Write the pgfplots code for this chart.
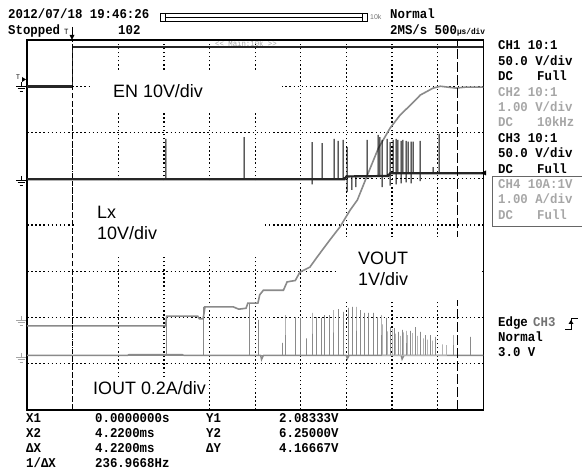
\documentclass[border=0pt]{standalone}
\usepackage{pgfplots}
\pgfplotsset{compat=1.18}
\usepackage{fontspec}
\setmainfont{Liberation Sans}
\newfontfamily\scopefont{Liberation Mono}[FakeStretch=0.92]
\definecolor{trace}{HTML}{8A8A8A}
\definecolor{dim}{HTML}{B4B4B4}
\definecolor{off}{HTML}{A6A6A6}
\newcommand\st{\scopefont\bfseries\fontsize{13.5}{15}\selectfont}
\newcommand\lab{\fontsize{18}{21}\selectfont}
\tikzset{scopegrid/.style={black, line width=1.3bp, dash pattern=on 1.5bp off 2.6bp}}

\begin{document}
\begin{tikzpicture}
\path[use as bounding box] (0,0) rectangle (582bp,471bp);

% faint header text inside the screen, under the traces
\begin{scope}[shift={(0bp,471bp)}, x=1bp, y=-1bp]
  \node[anchor=base west, inner sep=0, text=black!35, font=\scopefont\fontsize{8}{9}\selectfont] at (215,47) {<< Main:10k >>};
\end{scope}

\begin{axis}[
  at={(27bp,61bp)}, anchor=south west,
  scale only axis, width=456.3bp, height=370bp,
  xmin=-0.5, xmax=4.5, ymin=0, ymax=8,
  xtick=\empty, ytick=\empty,
  axis line style={black, line width=1.3bp},
]
% screen graticule: 500 us/div, 8 vertical divisions
\pgfplotsinvokeforeach{0,0.5,1,1.5,2,2.5,3,3.5,4}{
  \draw[scopegrid] (axis cs:#1,0) -- (axis cs:#1,8);
}
\pgfplotsinvokeforeach{1,2,3,4,5,6,7}{
  \draw[scopegrid] (axis cs:-0.5,#1) -- (axis cs:4.5,#1);
}
% IOUT (CH4), 0.2 A/div
\addplot[trace, line width=1.4bp] coordinates {
  (-0.5,1.18) (0.6,1.18) (0.62,1.20) (1.2,1.20) (1.22,1.18) (2.06,1.18) (2.07,1.09) (2.09,1.18)
  (3.0,1.18) (3.01,1.11) (3.03,1.18) (3.6,1.18) (3.61,1.10) (3.63,1.18) (4.5,1.18)};
\addplot[trace, line width=0.9bp] coordinates {
  (-0.5,1.18)
  (1.023,1.18) (1.023,2.03) (1.023,1.18)
  (1.430,1.18) (1.430,2.23) (1.430,1.18)
  (1.940,1.18) (1.940,2.31) (1.940,1.18)
  (2.032,1.18) (2.032,1.95) (2.032,1.18)
  (2.300,1.18) (2.300,1.45) (2.300,1.18)
  (2.327,1.18) (2.327,2.05) (2.327,1.18)
  (2.437,1.18) (2.437,2.01) (2.437,1.18)
  (2.492,1.18) (2.492,1.99) (2.492,1.18)
  (2.560,1.18) (2.560,1.55) (2.560,1.18)
  (2.623,1.18) (2.623,2.10) (2.623,1.18)
  (2.667,1.18) (2.667,2.01) (2.667,1.18)
  (2.722,1.18) (2.722,1.99) (2.722,1.18)
  (2.755,1.18) (2.755,2.05) (2.755,1.18)
  (2.810,1.18) (2.810,2.05) (2.810,1.18)
  (2.853,1.18) (2.853,2.16) (2.853,1.18)
  (2.908,1.18) (2.908,2.18) (2.908,1.18)
  (2.963,1.18) (2.963,2.12) (2.963,1.18)
  (3.018,1.18) (3.018,2.21) (3.018,1.18)
  (3.061,1.18) (3.061,2.23) (3.061,1.18)
  (3.105,1.18) (3.105,2.23) (3.105,1.18)
  (3.150,1.18) (3.150,2.16) (3.150,1.18)
  (3.193,1.18) (3.193,2.10) (3.193,1.18)
  (3.237,1.18) (3.237,2.10) (3.237,1.18)
  (3.292,1.18) (3.292,2.10) (3.292,1.18)
  (3.336,1.18) (3.336,2.01) (3.336,1.18)
  (3.379,1.18) (3.379,2.05) (3.379,1.18)
  (3.434,1.18) (3.434,1.99) (3.434,1.18)
  (3.478,1.18) (3.478,1.79) (3.478,1.18)
  (3.522,1.18) (3.522,1.77) (3.522,1.18)
  (3.565,1.18) (3.565,1.69) (3.565,1.18)
  (3.609,1.18) (3.609,1.73) (3.609,1.18)
  (3.653,1.18) (3.653,1.71) (3.653,1.18)
  (3.697,1.18) (3.697,1.71) (3.697,1.18)
  (3.752,1.18) (3.752,1.79) (3.752,1.18)
  (3.807,1.18) (3.807,1.69) (3.807,1.18)
  (3.862,1.18) (3.862,1.62) (3.862,1.18)
  (3.917,1.18) (3.917,1.62) (3.917,1.18)
  (3.971,1.18) (3.971,1.58) (3.971,1.18)
  (4.168,1.18) (4.168,1.62) (4.168,1.18)
  (4.355,1.18) (4.355,1.58) (4.355,1.18)
  (4.5,1.18)};
\addplot[dim, line width=0.9bp] coordinates {
  (3.40,1.18) (3.40,1.85) (3.40,1.18)
  (3.45,1.18) (3.45,1.70) (3.45,1.18)
  (3.50,1.18) (3.50,1.75) (3.50,1.18)
  (3.54,1.18) (3.54,1.65) (3.54,1.18)
  (3.59,1.18) (3.59,1.60) (3.59,1.18)
  (3.63,1.18) (3.63,1.68) (3.63,1.18)
  (3.67,1.18) (3.67,1.62) (3.67,1.18)
  (3.72,1.18) (3.72,1.66) (3.72,1.18)
  (3.78,1.18) (3.78,1.60) (3.78,1.18)
  (3.84,1.18) (3.84,1.55) (3.84,1.18)
  (3.89,1.18) (3.89,1.52) (3.89,1.18)
  (3.94,1.18) (3.94,1.50) (3.94,1.18)
  (4.05,1.18) (4.05,1.42) (4.05,1.18)
  (4.10,1.18) (4.10,1.40) (4.10,1.18)};
% VOUT (CH2), 1 V/div
\addplot[trace, line width=1.6bp] coordinates {
  (-0.5,1.82) (1.02,1.82) (1.03,2.03) (1.37,2.03) (1.39,1.97) (1.43,1.97) (1.45,2.23)
  (1.76,2.23) (1.82,2.18) (1.90,2.20) (1.92,2.31) (2.03,2.31) (2.05,2.49) (2.09,2.59)
  (2.31,2.59) (2.35,2.77) (2.44,2.80) (2.49,2.98) (2.60,3.09) (2.68,3.31) (2.82,3.68)
  (2.93,3.96) (3.04,4.32) (3.12,4.54) (3.23,5.08) (3.35,5.66) (3.48,6.10) (3.59,6.38)
  (3.70,6.59) (3.81,6.81) (3.95,6.96) (4.03,7.00) (4.20,6.96) (4.30,6.98) (4.5,6.98)};
% Lx (CH3), 10 V/div
\addplot[black, line width=1bp] coordinates {
  (-0.5,5.0)
  (1.023,5.0) (1.023,5.86) (1.023,5.0)
  (1.878,5.0) (1.878,5.90) (1.878,5.0)
  (2.623,5.0) (2.623,5.79) (2.623,4.88) (2.623,5.0)
  (2.733,5.0) (2.733,5.77) (2.733,5.0)
  (2.864,5.0) (2.864,5.86) (2.864,5.0)
  (2.908,5.0) (2.908,5.82) (2.908,5.0)
  (2.963,5.0) (2.963,5.84) (2.963,5.0)
  (3.007,5.05) (3.007,5.69) (3.007,4.71) (3.007,5.05)
  (3.061,5.05) (3.061,4.76) (3.061,5.05)
  (3.105,5.05) (3.105,4.82) (3.105,5.05)
  (3.226,5.06) (3.226,5.84) (3.226,5.06)
  (3.347,5.06) (3.347,5.95) (3.347,5.06)
  (3.368,5.06) (3.368,5.90) (3.368,5.06)
  (3.390,5.06) (3.390,5.84) (3.390,4.82) (3.390,5.06)
  (3.445,5.06) (3.445,5.86) (3.445,5.06)
  (3.478,5.12) (3.478,5.79) (3.478,4.85) (3.478,5.12)
  (3.511,5.12) (3.511,5.84) (3.511,5.12)
  (3.544,5.12) (3.544,5.86) (3.544,4.88) (3.544,5.12)
  (3.565,5.12) (3.565,5.84) (3.565,5.12)
  (3.599,5.12) (3.599,5.82) (3.599,4.90) (3.599,5.12)
  (3.620,5.12) (3.620,5.84) (3.620,5.12)
  (3.653,5.12) (3.653,5.82) (3.653,4.92) (3.653,5.12)
  (3.675,5.12) (3.675,5.80) (3.675,5.12)
  (3.709,5.12) (3.709,5.80) (3.709,4.90) (3.709,5.12)
  (3.730,5.12) (3.730,5.80) (3.730,5.12)
  (3.807,5.12) (3.807,5.82) (3.807,4.95) (3.807,5.12)
  (3.950,5.12) (3.950,5.25) (3.950,5.12)
  (4.015,5.12) (4.015,5.97) (4.015,5.12)
  (4.5,5.12)};
\addplot[black!85, line width=2.2bp] coordinates {
  (-0.5,4.99) (2.98,4.99) (3.0,5.05) (3.46,5.06) (3.48,5.12) (4.5,5.12)};
% EN (CH1), 10 V/div
\addplot[black!85, line width=2.6bp] coordinates {(-0.5,7.0) (0,7.0)};
\addplot[black!85, line width=0.8bp] coordinates {(0,7.0) (0,7.85)};
\addplot[black!85, line width=2.6bp] coordinates {(0,7.85) (4.5,7.85)};
% cursors X1 = 0 s, X2 = 4.22 ms
\addplot[black, line width=1bp, dash pattern=on 5bp off 3bp] coordinates {(0,0) (0,8)};
\addplot[black, line width=1bp, dash pattern=on 10bp off 3bp] coordinates {(4.22,0) (4.22,8)};
\end{axis}

\begin{scope}[shift={(0bp,471bp)}, x=1bp, y=-1bp]
  % label boxes over the screen
  \fill[white] (90,70) rectangle (282,112);
  \node[anchor=base west, inner sep=0, font=\lab] at (113,98) {EN 10V/div};
  \fill[white] (75,183) rectangle (263,255);
  \node[anchor=base west, inner sep=0, font=\lab] at (97,219) {Lx};
  \node[anchor=base west, inner sep=0, font=\lab] at (97,240) {10V/div};
  \fill[white] (338,237) rectangle (482,300);
  \node[anchor=base west, inner sep=0, font=\lab] at (358,265) {VOUT};
  \node[anchor=base west, inner sep=0, font=\lab] at (358,286) {1V/div};
  \fill[white] (85,378) rectangle (205,409);
  \node[anchor=base west, inner sep=0, font=\lab] at (93,395) {IOUT 0.2A/div};

  % header
  \node[anchor=base west, inner sep=0, font=\st] at (8,19) {2012/07/18 19:46:26};
  \node[anchor=base west, inner sep=0, font=\st] at (8,35) {Stopped};
  \node[anchor=base west, inner sep=0, font=\st] at (118,35) {102};
  \node[anchor=base west, inner sep=0, font=\st] at (390,19) {Normal};
  \node[anchor=base west, inner sep=0, font=\st] at (390,35) {2MS/s 500{\fontsize{8.5}{9}\selectfont µs/div}};
  \draw[black, line width=0.8bp] (160,13) rectangle (367,21);
  \draw[black, line width=0.8bp] (165,13) -- (165,21) (362,13) -- (362,21) (165,17) -- (362,17);
  \node[anchor=base west, inner sep=0, text=black!55, font=\fontsize{7}{8}\selectfont] at (370,20) {10k};

  % trigger position and level marks
  \node[anchor=base west, inner sep=0, font=\scopefont\fontsize{8}{9}\selectfont] at (64,35) {T};
  \draw[black, line width=0.7bp] (72,27) -- (72,36);
  \fill[black] (69.5,35) -- (74.5,35) -- (72,40) -- cycle;
  \node[anchor=base west, inner sep=0, font=\scopefont\fontsize{7}{8}\selectfont] at (16,80) {T};
  \fill[black] (22,77) -- (26,79.5) -- (22,82) -- cycle;
  \fill[black] (481,173) -- (486,170.5) -- (486,175.5) -- cycle;
  % ground marks
  \foreach \gy/\gc in {86/black, 180/black, 320/off, 357/off} {
    \draw[\gc, line width=0.8bp] (16,\gy) -- (26,\gy)
      (17.5,\gy+2.5) -- (24.5,\gy+2.5) (19.5,\gy+5) -- (22.5,\gy+5)
      (21,\gy-4) -- (21,\gy);
  }

  % channel settings
  \node[anchor=base west, inner sep=0, font=\st] at (498,50) {CH1 10:1};
  \node[anchor=base west, inner sep=0, font=\st] at (498,65.4) {50.0 V/div};
  \node[anchor=base west, inner sep=0, font=\st] at (498,80.8) {DC};
  \node[anchor=base west, inner sep=0, font=\st] at (537,80.8) {Full};
  \node[anchor=base west, inner sep=0, font=\st, text=off] at (498,96.2) {CH2 10:1};
  \node[anchor=base west, inner sep=0, font=\st, text=off] at (498,111.6) {1.00 V/div};
  \node[anchor=base west, inner sep=0, font=\st, text=off] at (498,127) {DC};
  \node[anchor=base west, inner sep=0, font=\st, text=off] at (537,127) {10kHz};
  \node[anchor=base west, inner sep=0, font=\st] at (498,142.4) {CH3 10:1};
  \node[anchor=base west, inner sep=0, font=\st] at (498,157.8) {50.0 V/div};
  \node[anchor=base west, inner sep=0, font=\st] at (498,173.2) {DC};
  \node[anchor=base west, inner sep=0, font=\st] at (537,173.2) {Full};
  \draw[black!60, line width=1bp] (590,177) -- (492,177) -- (492,227) -- (590,227);
  \node[anchor=base west, inner sep=0, font=\st, text=off] at (498,188.6) {CH4 10A:1V};
  \node[anchor=base west, inner sep=0, font=\st, text=off] at (498,204) {1.00 A/div};
  \node[anchor=base west, inner sep=0, font=\st, text=off] at (498,219.4) {DC};
  \node[anchor=base west, inner sep=0, font=\st, text=off] at (537,219.4) {Full};

  % trigger settings
  \node[anchor=base west, inner sep=0, font=\st] at (498,327) {Edge};
  \node[anchor=base west, inner sep=0, font=\st, text=black!55] at (533,327) {CH3};
  \draw[black, line width=0.9bp] (565,329) -- (571,329) -- (571,318) -- (578,318);
  \fill[black] (568.5,324) -- (573.5,324) -- (571,320) -- cycle;
  \node[anchor=base west, inner sep=0, font=\st] at (498,342) {Normal};
  \node[anchor=base west, inner sep=0, font=\st] at (498,357) {3.0 V};

  % cursor readout
  \node[anchor=base west, inner sep=0, font=\st] at (26,423) {X1};
  \node[anchor=base west, inner sep=0, font=\st] at (95,423) {0.0000000s};
  \node[anchor=base west, inner sep=0, font=\st] at (206,423) {Y1};
  \node[anchor=base west, inner sep=0, font=\st] at (279,423) {2.08333V};
  \node[anchor=base west, inner sep=0, font=\st] at (26,438) {X2};
  \node[anchor=base west, inner sep=0, font=\st] at (95,438) {4.2200ms};
  \node[anchor=base west, inner sep=0, font=\st] at (206,438) {Y2};
  \node[anchor=base west, inner sep=0, font=\st] at (279,438) {6.25000V};
  \node[anchor=base west, inner sep=0, font=\st] at (26,453) {ΔX};
  \node[anchor=base west, inner sep=0, font=\st] at (95,453) {4.2200ms};
  \node[anchor=base west, inner sep=0, font=\st] at (206,453) {ΔY};
  \node[anchor=base west, inner sep=0, font=\st] at (279,453) {4.16667V};
  \node[anchor=base west, inner sep=0, font=\st] at (26,468) {1/ΔX};
  \node[anchor=base west, inner sep=0, font=\st] at (95,468) {236.9668Hz};
\end{scope}
\end{tikzpicture}
\end{document}
